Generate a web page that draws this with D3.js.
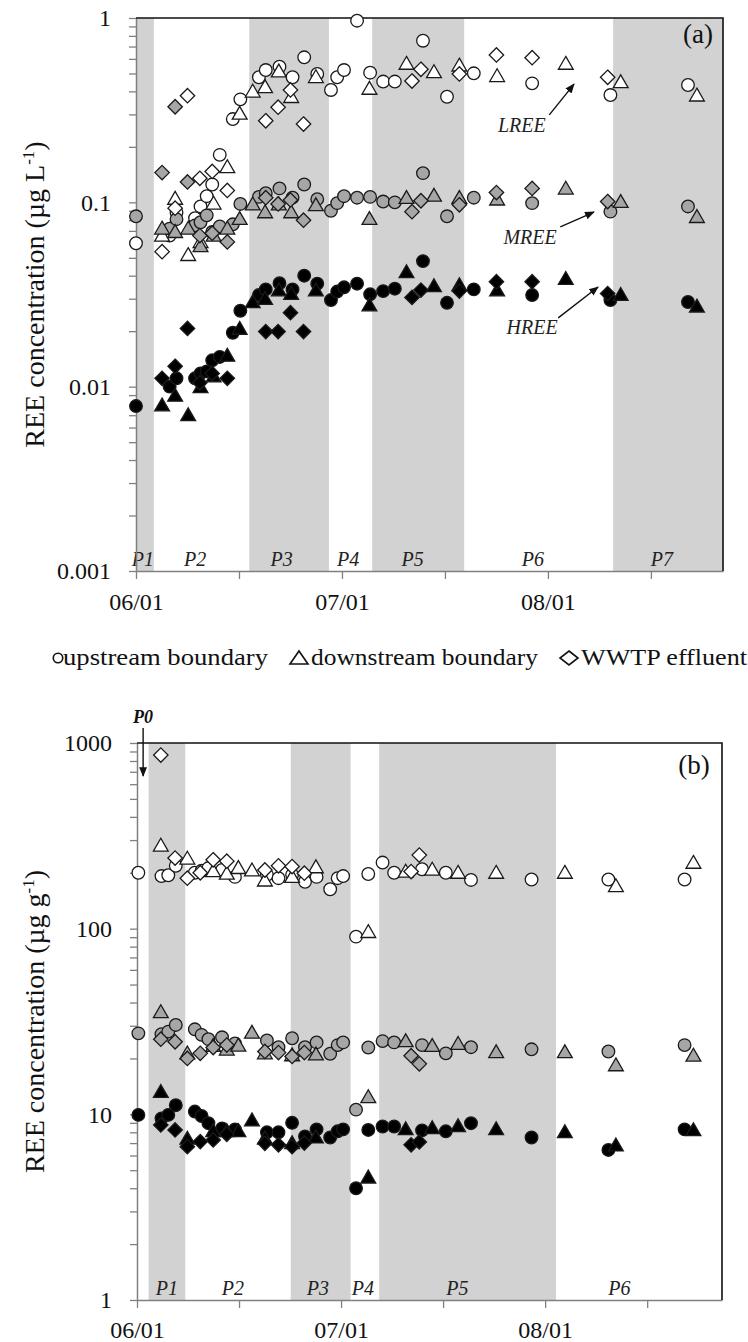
<!DOCTYPE html>
<html><head><meta charset="utf-8">
<script src="https://cdn.jsdelivr.net/npm/d3@7"></script>
<style>body{margin:0;background:#fff}svg{display:block}</style>
</head><body>
<script>
// ---------- axes / labels ----------
const xTickDays = [0, 15, 30, 45, 60, 75];
const xLabelDays = [0, 30, 60];
const xLabels = ["06/01", "07/01", "08/01"];
const aYTicks = [0.001, 0.01, 0.1, 1];
const aYTickLabels = ["0.001", "0.01", "0.1", "1"];
const bYTicks = [1, 10, 100, 1000];
const bYTickLabels = ["1", "10", "100", "1000"];
const aBandStart = [0, 16.5, 34.4, 69.5];
const aBandEnd = [2.6, 28.1, 47.8, 85.5];
const aPeriodNames = ["P1", "P2", "P3", "P4", "P5", "P6", "P7"];
const aPeriodDays = [1.0, 8.6, 21.2, 30.9, 40.3, 57.8, 76.6];
const bBandStart = [1.7, 22.6, 35.6];
const bBandEnd = [7.1, 31.4, 61.6];
const bPeriodNames = ["P1", "P2", "P3", "P4", "P5", "P6"];
const bPeriodDays = [4.4, 14.1, 26.6, 33.2, 47.1, 70.9];
const siteNames = ["upstream boundary", "downstream boundary", "WWTP effluent"];
const groupNames = ["LREE", "MREE", "HREE"];

// ---------- panel (a): dissolved, µg/L ----------
const aUpDays = [0, 4.9, 5.9, 8.6, 9.4, 10.3, 11.1, 12.2, 14.1, 15.2, 17.9, 18.9, 20.9, 22.8, 24.5, 26.4, 28.4, 29.3, 30.3, 32.2, 34.1, 36.0, 37.7, 41.8, 45.3, 49.2, 57.7, 69.1, 80.4];
const aUpL = [0.060, 0.066, 0.088, 0.082, 0.095, 0.108, 0.125, 0.181, 0.283, 0.362, 0.477, 0.522, 0.544, 0.477, 0.612, 0.497, 0.407, 0.477, 0.522, 0.967, 0.505, 0.452, 0.452, 0.753, 0.374, 0.501, 0.442, 0.382, 0.433];
const aUpM = [0.084, 0.072, 0.081, 0.075, 0.078, 0.085, 0.069, 0.074, 0.076, 0.098, 0.107, 0.112, 0.119, 0.106, 0.125, 0.104, 0.090, 0.099, 0.108, 0.106, 0.107, 0.101, 0.100, 0.144, 0.084, 0.106, 0.099, 0.089, 0.095];
const aUpH = [0.00785, 0.0100, 0.0111, 0.0111, 0.0118, 0.0121, 0.0139, 0.0145, 0.0196, 0.0258, 0.0314, 0.0337, 0.0364, 0.0337, 0.0400, 0.0362, 0.0295, 0.0328, 0.0346, 0.0362, 0.0317, 0.0330, 0.0340, 0.0480, 0.0285, 0.0337, 0.0314, 0.0295, 0.0288];

const aDownDays = [3.8, 5.7, 7.6, 9.4, 11.3, 13.3, 15.1, 17.0, 18.8, 20.8, 22.6, 26.2, 34.0, 39.4, 43.4, 47.1, 52.6, 62.6, 70.6, 81.7];
const aDownL = [0.065, 0.103, 0.051, 0.060, 0.097, 0.153, 0.298, 0.393, 0.415, 0.505, 0.367, 0.471, 0.407, 0.556, 0.501, 0.544, 0.477, 0.556, 0.442, 0.374];
const aDownM = [0.071, 0.068, 0.071, 0.057, 0.065, 0.071, 0.080, 0.096, 0.087, 0.096, 0.087, 0.095, 0.080, 0.104, 0.107, 0.104, 0.102, 0.117, 0.099, 0.082];
const aDownH = [0.0078, 0.0088, 0.0069, 0.0098, 0.0112, 0.0145, 0.0203, 0.0283, 0.0295, 0.0328, 0.0314, 0.0328, 0.0272, 0.0412, 0.0346, 0.0350, 0.0328, 0.0379, 0.0310, 0.0268];

const aWwtpDays = [3.8, 5.7, 7.5, 9.3, 11.1, 13.3, 18.9, 20.7, 22.5, 24.4, 40.2, 41.5, 47.1, 52.5, 57.7, 68.7];
const aWwtpL = [0.054, 0.093, 0.379, 0.135, 0.147, 0.116, 0.277, 0.328, 0.407, 0.266, 0.455, 0.527, 0.497, 0.630, 0.609, 0.477];
const aWwtpM = [0.145, 0.330, 0.129, 0.066, 0.068, 0.061, 0.106, 0.098, 0.103, 0.080, 0.089, 0.102, 0.097, 0.113, 0.119, 0.101];
const aWwtpH = [0.0111, 0.0129, 0.0207, 0.0105, 0.0118, 0.0111, 0.0199, 0.0199, 0.0252, 0.0199, 0.0305, 0.0334, 0.0330, 0.0371, 0.0371, 0.0320];

// ---------- panel (b): sediment, µg/g ----------
const bUpDays = [0.2, 3.6, 4.6, 5.7, 8.5, 9.5, 10.5, 12.5, 14.4, 19.1, 20.8, 22.8, 24.7, 26.4, 28.4, 29.5, 30.3, 32.2, 34.0, 36.1, 37.8, 41.9, 45.4, 49.1, 58.0, 69.3, 80.5];
const bUpL = [200, 192, 194, 218, 200, 205, 212, 207, 190, 195, 187, 195, 179, 190, 163, 187, 192, 90.6, 197, 227, 200, 209, 200, 183, 184, 184, 184];
const bUpM = [27.3, 27.0, 27.9, 30.3, 28.7, 26.8, 25.4, 26.0, 24.1, 25.0, 23.0, 25.7, 23.0, 24.4, 21.2, 23.6, 24.4, 10.6, 22.9, 24.8, 24.4, 23.6, 21.3, 23.0, 22.4, 21.8, 23.6];
const bUpH = [9.93, 9.5, 9.93, 11.2, 10.35, 9.8, 8.96, 8.4, 8.3, 8.0, 8.0, 9.0, 7.6, 8.3, 7.5, 8.1, 8.3, 4.0, 8.24, 8.6, 8.6, 8.2, 8.1, 8.96, 7.5, 6.43, 8.3];

const bDownDays = [3.5, 7.4, 11.2, 13.2, 14.9, 16.9, 18.8, 22.8, 26.3, 34.0, 39.5, 43.4, 47.2, 52.8, 62.9, 70.4, 81.8];
const bDownL = [276, 235, 201, 195, 209, 203, 179, 187, 211, 94.5, 200, 205, 197, 197, 197, 167, 223];
const bDownM = [35.0, 21.0, 23.0, 22.0, 23.1, 27.1, 21.0, 20.5, 20.7, 12.2, 24.4, 23.0, 23.6, 21.3, 21.3, 18.1, 20.4];
const bDownH = [13.0, 7.28, 8.0, 8.0, 8.0, 9.15, 7.3, 6.9, 7.4, 4.5, 8.2, 8.3, 8.5, 8.2, 7.9, 6.7, 8.1];

const bWwtpDays = [3.5, 5.6, 7.4, 9.3, 11.2, 13.2, 18.8, 20.8, 22.8, 24.6, 40.3, 41.5];
const bWwtpL = [861, 240, 187, 200, 235, 231, 207, 218, 216, 199, 203, 249];
const bWwtpM = [25.4, 24.6, 20.0, 21.3, 22.9, 23.6, 21.8, 21.5, 20.5, 21.5, 20.7, 18.7];
const bWwtpH = [8.77, 8.24, 6.70, 7.13, 7.28, 7.8, 6.98, 6.85, 6.7, 7.0, 6.85, 7.1];

// ---------- drawing ----------
const FONT = "'Liberation Serif','Times New Roman',serif";
const svg = d3.select("body").append("svg").attr("width", 748).attr("height", 1342);
svg.append("defs").append("marker").attr("id", "ah")
  .attr("viewBox", "0 0 10 10").attr("refX", 9).attr("refY", 5)
  .attr("markerWidth", 7).attr("markerHeight", 7).attr("orient", "auto")
  .append("path").attr("d", "M0,1L10,5L0,9z").attr("fill", "#111");

const diamondType = {draw(ctx, size) { const r = Math.sqrt(size / 2); ctx.moveTo(0, -r); ctx.lineTo(r, 0); ctx.lineTo(0, r); ctx.lineTo(-r, 0); ctx.closePath(); }};
const shapes = [d3.symbol(d3.symbolCircle, 125), d3.symbol(d3.symbolTriangle, 95), d3.symbol(diamondType, 104)];
const groupFill = ["#ffffff", "#a6a6a6", "#000000"];

function drawPanel(p) {
  const x = p.x, y = p.y;
  const [x0, x1] = x.range();
  const [yB, yT] = y.range();
  const g = svg.append("g");
  // shaded periods
  g.selectAll("rect.band").data(p.bandStart.map((s, i) => [s, p.bandEnd[i]])).join("rect")
    .attr("x", d => x(d[0])).attr("width", d => x(d[1]) - x(d[0]))
    .attr("y", yT).attr("height", yB - yT).attr("fill", "#d2d2d2");
  // period labels
  g.selectAll("text.per").data(p.periodNames).join("text")
    .attr("x", (d, i) => x(p.periodDays[i])).attr("y", p.perY)
    .attr("text-anchor", "middle").attr("font-family", FONT).attr("font-style", "italic")
    .attr("font-size", 20).attr("fill", "#222").text(d => d);
  // left axis
  const ya = g.append("g").attr("transform", `translate(${x0},0)`)
    .call(d3.axisLeft(y).tickValues(y.ticks()).tickSize(7).tickSizeOuter(0).tickPadding(18)
      .tickFormat(v => { const i = p.yTicks.findIndex(t => Math.abs(t - v) / t < 1e-6); return i >= 0 ? p.yTickLabels[i] : ""; }));
  ya.select(".domain").attr("stroke", "#808080").attr("stroke-width", 1.5);
  ya.selectAll(".tick line").attr("stroke", "#808080").attr("stroke-width", 1.3);
  ya.selectAll("text").attr("font-family", FONT).attr("font-size", 24).attr("fill", "#111");
  // bottom axis
  const xa = g.append("g").attr("transform", `translate(0,${yB})`)
    .call(d3.axisBottom(x).tickValues(xTickDays).tickSize(8).tickSizeOuter(0).tickPadding(p.xPad)
      .tickFormat(v => { const i = xLabelDays.indexOf(v); return i >= 0 ? xLabels[i] : ""; }));
  xa.select(".domain").attr("stroke", "#808080").attr("stroke-width", 1.5);
  xa.selectAll(".tick line").attr("stroke", "#808080").attr("stroke-width", 1.3);
  xa.selectAll("text").attr("font-family", FONT).attr("font-size", 24).attr("fill", "#111");
  // frame top & right
  g.append("path").attr("d", `M${x0},${yT}H${x1}V${yB}`).attr("fill", "none").attr("stroke", "#111").attr("stroke-width", 1.6);
  // y title
  const t = g.append("text").attr("transform", `translate(44,${(yT + yB) / 2}) rotate(-90)`)
    .attr("text-anchor", "middle").attr("font-family", FONT).attr("font-size", 28).attr("fill", "#111");
  t.append("tspan").text("REE concentration (\u00b5g " + p.unit);
  t.append("tspan").attr("dy", -10).attr("font-size", 17).text("-1");
  t.append("tspan").attr("dy", 10).text(")");
  // panel letter
  g.append("text").attr("x", p.letterX).attr("y", p.letterY).attr("text-anchor", "middle")
    .attr("font-family", FONT).attr("font-size", 27).attr("fill", "#111").text(p.letter);
  // markers
  p.sites.forEach((s, si) => {
    s.vals.forEach((vals, gi) => {
      g.append("g").selectAll("path").data(s.days.map((d, i) => ({d, v: vals[i]}))).join("path")
        .attr("d", shapes[si]())
        .attr("transform", d => `translate(${x(d.d)},${y(d.v)})`)
        .attr("fill", groupFill[gi]).attr("stroke", "#1a1a1a").attr("stroke-width", 1.3);
    });
  });
  return g;
}

const xA = d3.scaleLinear().domain([0, 85.5]).range([136, 723]);
const yA = d3.scaleLog().domain([0.001, 1]).range([571, 18]);
const xB = d3.scaleLinear().domain([0, 86]).range([137, 722]);
const yB = d3.scaleLog().domain([1, 1000]).range([1300, 743]);

const gA = drawPanel({
  x: xA, y: yA, bandStart: aBandStart, bandEnd: aBandEnd, periodNames: aPeriodNames, periodDays: aPeriodDays,
  perY: 566, yTicks: aYTicks, yTickLabels: aYTickLabels, xPad: 14, unit: "L", letter: "(a)", letterX: 698, letterY: 43,
  sites: [{days: aUpDays, vals: [aUpL, aUpM, aUpH]}, {days: aDownDays, vals: [aDownL, aDownM, aDownH]}, {days: aWwtpDays, vals: [aWwtpL, aWwtpM, aWwtpH]}]
});
const gB = drawPanel({
  x: xB, y: yB, bandStart: bBandStart, bandEnd: bBandEnd, periodNames: bPeriodNames, periodDays: bPeriodDays,
  perY: 1295, yTicks: bYTicks, yTickLabels: bYTickLabels, xPad: 13, unit: "g", letter: "(b)", letterX: 694, letterY: 774,
  sites: [{days: bUpDays, vals: [bUpL, bUpM, bUpH]}, {days: bDownDays, vals: [bDownL, bDownM, bDownH]}, {days: bWwtpDays, vals: [bWwtpL, bWwtpM, bWwtpH]}]
});

// annotations in panel (a): label, label position, arrow start, arrow end (day, value)
const annNames = ["LREE", "MREE", "HREE"];
const annTextDay = [56.2, 57.4, 57.7];
const annTextVal = [0.263, 0.0649, 0.0211];
const annFromDay = [60.2, 61.8, 61.5];
const annFromVal = [0.298, 0.0735, 0.0236];
const annToDay = [63.8, 66.7, 67.3];
const annToVal = [0.438, 0.0886, 0.0347];
annNames.forEach((n, i) => {
  gA.append("text").attr("x", xA(annTextDay[i])).attr("y", yA(annTextVal[i]) + 7).attr("text-anchor", "middle")
    .attr("font-family", FONT).attr("font-style", "italic").attr("font-size", 20).attr("fill", "#222").text(n);
  gA.append("line").attr("x1", xA(annFromDay[i])).attr("y1", yA(annFromVal[i]))
    .attr("x2", xA(annToDay[i])).attr("y2", yA(annToVal[i]))
    .attr("stroke", "#111").attr("stroke-width", 1.4).attr("marker-end", "url(#ah)");
});

// P0 annotation in panel (b)
const p0Day = 0.9;
gB.append("text").attr("x", xB(p0Day)).attr("y", 723).attr("text-anchor", "middle").attr("font-family", FONT)
  .attr("font-style", "italic").attr("font-weight", "bold").attr("font-size", 18).attr("fill", "#111").text("P0");
gB.append("line").attr("x1", xB(p0Day)).attr("y1", 728).attr("x2", xB(p0Day)).attr("y2", 776)
  .attr("stroke", "#111").attr("stroke-width", 1.4).attr("marker-end", "url(#ah)");

// legend
const leg = svg.append("g").attr("font-family", FONT).attr("font-size", 24).attr("fill", "#111");
const legSymX = [58, 299, 569];
const legTextX = [63, 311, 581];
const legTextW = [205, 227, 166];
const legPaths = [
  d3.symbol(d3.symbolCircle, 70)(),
  "M0,-7L9,6L-9,6Z",
  "M0,-7L9,0L0,7L-9,0Z"
];
legPaths.forEach((d, i) => {
  leg.append("path").attr("d", d).attr("transform", `translate(${legSymX[i]},658)`)
    .attr("fill", "none").attr("stroke", "#111").attr("stroke-width", 1.6);
  leg.append("text").attr("x", legTextX[i]).attr("y", 665).attr("textLength", legTextW[i])
    .attr("lengthAdjust", "spacingAndGlyphs").text(siteNames[i]);
});
</script>
</body></html>
